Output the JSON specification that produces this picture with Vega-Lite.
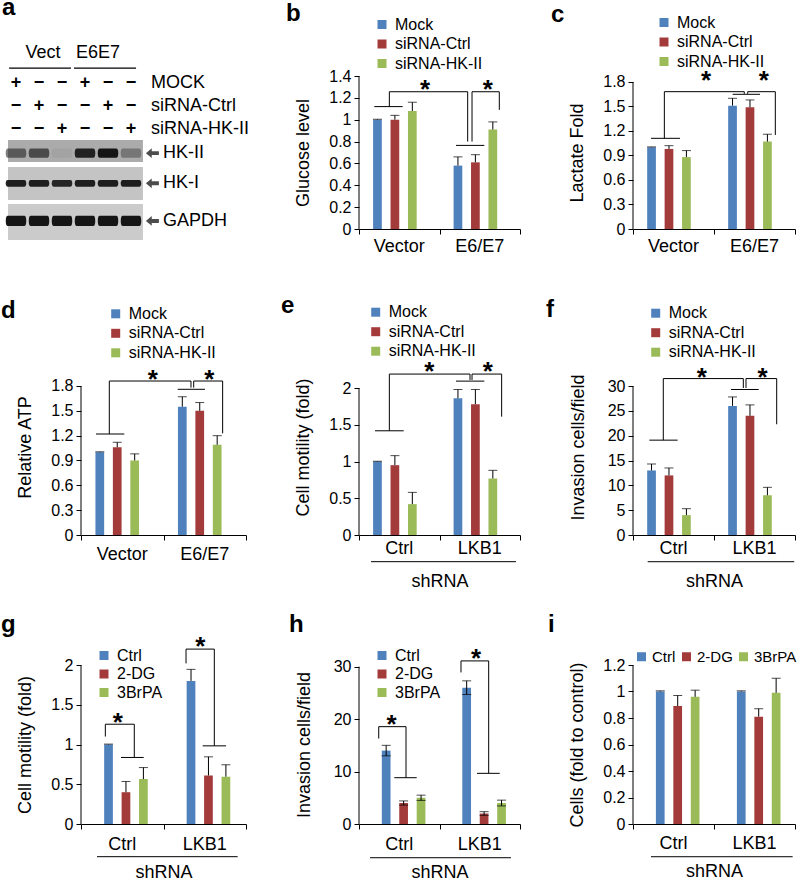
{
"$schema": "https://vega.github.io/schema/vega-lite/v6.json",
"padding": {"top": -5, "left": 0, "right": 0, "bottom": 0},
"background": "white",
"columns": 3,
"spacing": {"row": 130, "column": 113},
"bounds": "flush",
"align": "each",
"resolve": {"scale": {"color": "independent", "shape": "independent"}, "legend": {"color": "independent"}},
"config": {
  "font": "Liberation Sans",
  "view": {"stroke": null},
  "axis": {"grid": false, "labelColor": "#000", "titleColor": "#000", "tickColor": "#000", "domainColor": "#000", "labelFontSize": 16, "titleFontSize": 18, "titleFontWeight": "normal", "tickSize": 5, "labelPadding": 3, "labelOverlap": false},
  "legend": {"symbolType": "square", "symbolSize": 81, "symbolStrokeWidth": 0, "labelFontSize": 16, "rowPadding": 3.5, "labelOffset": 5, "padding": 0, "labelColor": "#000"},
  "text": {"color": "#000"}
},
"concat": [
{
  "width": 165, "height": 153,
  "data": {"values": [
    {"k":"bg","p":"HK-II","x0":0.652,"x1":6.52,"y0":3.48,"y1":4.43},
    {"k":"bg","p":"HK-I","x0":0.652,"x1":6.52,"y0":4.65,"y1":6.09},
    {"k":"bg","p":"GAPDH","x0":0.652,"x1":6.52,"y0":6.26,"y1":7.83},
    {"k":"band","p":"HK-II","x0":1,"y0":4.05,"o":0.55},
    {"k":"band","p":"HK-II","x0":2,"y0":4.05,"o":0.65},
    {"k":"band","p":"HK-II","x0":3,"y0":4.05,"o":0.05},
    {"k":"band","p":"HK-II","x0":4,"y0":4.05,"o":0.92},
    {"k":"band","p":"HK-II","x0":5,"y0":4.05,"o":1},
    {"k":"band","p":"HK-II","x0":6,"y0":4.05,"o":0.35},
    {"k":"band","p":"HK-I","x0":1,"y0":5.36,"o":0.95},
    {"k":"band","p":"HK-I","x0":2,"y0":5.36,"o":0.95},
    {"k":"band","p":"HK-I","x0":3,"y0":5.36,"o":0.9},
    {"k":"band","p":"HK-I","x0":4,"y0":5.36,"o":0.95},
    {"k":"band","p":"HK-I","x0":5,"y0":5.36,"o":0.95},
    {"k":"band","p":"HK-I","x0":6,"y0":5.36,"o":0.95},
    {"k":"band","p":"GAPDH","x0":1,"y0":7.0,"o":1},
    {"k":"band","p":"GAPDH","x0":2,"y0":7.0,"o":1},
    {"k":"band","p":"GAPDH","x0":3,"y0":7.0,"o":1},
    {"k":"band","p":"GAPDH","x0":4,"y0":7.0,"o":1},
    {"k":"band","p":"GAPDH","x0":5,"y0":7.0,"o":1},
    {"k":"band","p":"GAPDH","x0":6,"y0":7.0,"o":1},
    {"k":"arrow","x0":6.93,"y0":4.05},
    {"k":"arrow","x0":6.93,"y0":5.36},
    {"k":"arrow","x0":6.93,"y0":7.0},
    {"k":"lab","x0":7.39,"y0":4.05,"s":"HK-II"},
    {"k":"lab","x0":7.39,"y0":5.36,"s":"HK-I"},
    {"k":"lab","x0":7.39,"y0":7.0,"s":"GAPDH"},
    {"k":"lab","x0":6.87,"y0":1,"s":"MOCK"},
    {"k":"lab","x0":6.87,"y0":2,"s":"siRNA-Ctrl"},
    {"k":"lab","x0":6.87,"y0":3,"s":"siRNA-HK-II"},
    {"k":"sign","x0":1,"y0":1,"s":"+"},{"k":"sign","x0":2,"y0":1,"s":"−"},{"k":"sign","x0":3,"y0":1,"s":"−"},
    {"k":"sign","x0":4,"y0":1,"s":"+"},{"k":"sign","x0":5,"y0":1,"s":"−"},{"k":"sign","x0":6,"y0":1,"s":"−"},
    {"k":"sign","x0":1,"y0":2,"s":"−"},{"k":"sign","x0":2,"y0":2,"s":"+"},{"k":"sign","x0":3,"y0":2,"s":"−"},
    {"k":"sign","x0":4,"y0":2,"s":"−"},{"k":"sign","x0":5,"y0":2,"s":"+"},{"k":"sign","x0":6,"y0":2,"s":"−"},
    {"k":"sign","x0":1,"y0":3,"s":"−"},{"k":"sign","x0":2,"y0":3,"s":"−"},{"k":"sign","x0":3,"y0":3,"s":"+"},
    {"k":"sign","x0":4,"y0":3,"s":"−"},{"k":"sign","x0":5,"y0":3,"s":"−"},{"k":"sign","x0":6,"y0":3,"s":"+"},
    {"k":"hdr","x0":2.17,"y0":-0.3,"s":"Vect"},
    {"k":"hdr","x0":4.57,"y0":-0.3,"s":"E6E7"},
    {"k":"seg","x0":0.70,"x1":3.39,"y0":0.35,"y1":0.35},
    {"k":"seg","x0":3.52,"x1":6.22,"y0":0.35,"y1":0.35},
    {"k":"letter","x0":0.39,"y0":-1.957,"s":"a"}
  ]},
  "encoding": {
    "x": {"field":"x0","type":"quantitative","scale":{"domain":[3.826,11.0],"nice":false,"zero":false},"axis":null},
    "y": {"field":"y0","type":"quantitative","scale":{"domain":[0.696,7.348],"reverse":true,"nice":false,"zero":false},"axis":null}
  },
  "layer": [
    {"transform":[{"filter":"datum.k == 'bg'"}],"mark":{"type":"rect"},"encoding":{"x2":{"field":"x1"},"y2":{"field":"y1"},"color":{"field":"p","type":"nominal","scale":{"domain":["HK-II","HK-I","GAPDH"],"range":["#ababab","#c4c4c4","#cbcbcb"]},"legend":null}}},
    {"transform":[{"filter":"datum.k == 'band'"}],"mark":{"type":"point","filled":true,"color":"#151515","size":420,"strokeWidth":0},"encoding":{"shape":{"field":"p","type":"nominal","scale":{"domain":["HK-II","HK-I","GAPDH"],"range":["M-0.8,-0.45L0.8,-0.45Q1,-0.45 1,0Q1,0.45 0.8,0.45L-0.8,0.45Q-1,0.45 -1,0Q-1,-0.45 -0.8,-0.45Z","M-0.8,-0.33L0.8,-0.33Q1,-0.33 1,0Q1,0.33 0.8,0.33L-0.8,0.33Q-1,0.33 -1,0Q-1,-0.33 -0.8,-0.33Z","M-0.8,-0.5L0.8,-0.5Q1,-0.5 1,0Q1,0.5 0.8,0.5L-0.8,0.5Q-1,0.5 -1,0Q-1,-0.5 -0.8,-0.5Z"]},"legend":null},"opacity":{"field":"o","type":"quantitative","scale":null,"legend":null}}},
    {"transform":[{"filter":"datum.k == 'arrow'"}],"mark":{"type":"point","filled":true,"color":"#000","size":169,"strokeWidth":0,"shape":"M-1,0L-0.1,-0.75L-0.1,-0.3L1,-0.3L1,0.3L-0.1,0.3L-0.1,0.75Z"}},
    {"transform":[{"filter":"datum.k == 'lab'"}],"mark":{"type":"text","align":"left","baseline":"middle","fontSize":18},"encoding":{"text":{"field":"s"}}},
    {"transform":[{"filter":"datum.k == 'sign'"}],"mark":{"type":"text","align":"center","baseline":"middle","fontSize":18,"fontWeight":"bold"},"encoding":{"text":{"field":"s"}}},
    {"transform":[{"filter":"datum.k == 'hdr'"}],"mark":{"type":"text","align":"center","baseline":"middle","fontSize":18},"encoding":{"text":{"field":"s"}}},
    {"transform":[{"filter":"datum.k == 'seg'"}],"mark":{"type":"rule","color":"#000","strokeWidth":1.3},"encoding":{"x2":{"field":"x1"},"y2":{"field":"y1"}}},
    {"transform":[{"filter":"datum.k == 'letter'"}],"mark":{"type":"text","align":"left","baseline":"alphabetic","fontSize":24,"fontWeight":"bold"},"encoding":{"text":{"field":"s"}}}
  ]
},
{
  "width": 161, "height": 153,
  "resolve": {"scale": {"x": "independent"}, "axis": {"x": "independent"}},
  "layer": [
    {
      "data": {"values": [
        {"g":"Vector","t":"Mock","v":1.0,"hi":1.005},
        {"g":"Vector","t":"siRNA-Ctrl","v":1.0,"hi":1.04},
        {"g":"Vector","t":"siRNA-HK-II","v":1.08,"hi":1.16},
        {"g":"E6/E7","t":"Mock","v":0.58,"hi":0.66},
        {"g":"E6/E7","t":"siRNA-Ctrl","v":0.61,"hi":0.68},
        {"g":"E6/E7","t":"siRNA-HK-II","v":0.91,"hi":0.98}
      ]},
      "encoding": {
        "x": {"field":"g","type":"nominal","sort":["Vector","E6/E7"],"scale":{"paddingInner":0.35,"paddingOuter":0.175},"axis":{"orient":"bottom","title":null,"ticks":false,"domain":false,"labelAngle":0,"labelFontSize":18,"labelPadding":8}},
        "xOffset": {"field":"t","type":"nominal","sort":["Mock","siRNA-Ctrl","siRNA-HK-II"],"scale":{"paddingInner":0,"paddingOuter":0}},
        "y": {"field":"v","type":"quantitative","scale":{"domain":[0,1.4],"nice":false},"axis":{"values":[0,0.2,0.4,0.6,0.8,1,1.2,1.4],"tickCount":20,"format":".3~g","labelOverlap":false,"domain":false,"title":"Glucose level","titlePadding":16}}
      },
      "layer": [
        {"mark":{"type":"bar"},"encoding":{"color":{"field":"t","type":"nominal","scale":{"domain":["Mock","siRNA-Ctrl","siRNA-HK-II"],"range":["#4F81BD","#A33B3B","#9BBB59"]},"legend":{"orient":"none","legendX":15,"legendY":-59.5,"title":null}}}},
        {"mark":{"type":"rule","color":"#000","strokeWidth":1},"encoding":{"y2":{"field":"hi"}}},
        {"mark":{"type":"tick","color":"#000","thickness":1,"size":9},"encoding":{"y":{"field":"hi","type":"quantitative"}}}
      ]
    },
    {
      "data": {"values": [
        {"k":"seg","x0":0,"x1":0,"y0":0,"y1":1.4},
        {"k":"seg","x0":0.19,"x1":0.542,"y0":1.12,"y1":1.12},
        {"k":"seg","x0":0.377,"x1":0.377,"y0":1.12,"y1":1.256},
        {"k":"seg","x0":0.377,"x1":1.35,"y0":1.256,"y1":1.256},
        {"k":"seg","x0":1.35,"x1":1.35,"y0":1.256,"y1":0.8},
        {"k":"seg","x0":1.404,"x1":1.404,"y0":1.256,"y1":0.8},
        {"k":"seg","x0":1.205,"x1":1.557,"y0":0.765,"y1":0.765},
        {"k":"seg","x0":1.404,"x1":1.743,"y0":1.256,"y1":1.256},
        {"k":"seg","x0":1.743,"x1":1.743,"y0":1.256,"y1":1.09},
        {"k":"star","x0":0.82,"y0":1.33,"s":"*"},
        {"k":"star","x0":1.599,"y0":1.33,"s":"*"},
        {"k":"letter","x0":-0.907,"y0":1.903,"s":"b"}
      ]},
      "encoding": {
        "x": {"field":"x0","type":"quantitative","scale":{"domain":[0,2],"nice":false,"zero":false},"axis":{"orient":"bottom","values":[0,1,2],"labels":false,"title":null,"domain":true,"ticks":true}},
        "y": {"field":"y0","type":"quantitative","scale":{"domain":[0,1.4],"nice":false}}
      },
      "layer": [
        {"transform":[{"filter":"datum.k == 'seg'"}],"mark":{"type":"rule","color":"#000","strokeWidth":1},"encoding":{"x2":{"field":"x1"},"y2":{"field":"y1"}}},
        {"transform":[{"filter":"datum.k == 'star'"}],"mark":{"type":"text","fontSize":26,"fontWeight":"bold","baseline":"alphabetic","dy":14},"encoding":{"text":{"field":"s"}}},
        {"transform":[{"filter":"datum.k == 'letter'"}],"mark":{"type":"text","fontSize":24,"fontWeight":"bold","align":"left","baseline":"alphabetic"},"encoding":{"text":{"field":"s"}}}
      ]
    }
  ]
},
{
  "width": 162, "height": 153,
  "resolve": {"scale": {"x": "independent"}, "axis": {"x": "independent"}},
  "layer": [
    {
      "data": {"values": [
        {"g":"Vector","t":"Mock","v":1.0,"hi":1.005},
        {"g":"Vector","t":"siRNA-Ctrl","v":0.98,"hi":1.02},
        {"g":"Vector","t":"siRNA-HK-II","v":0.88,"hi":0.96},
        {"g":"E6/E7","t":"Mock","v":1.51,"hi":1.6},
        {"g":"E6/E7","t":"siRNA-Ctrl","v":1.49,"hi":1.58},
        {"g":"E6/E7","t":"siRNA-HK-II","v":1.07,"hi":1.16}
      ]},
      "encoding": {
        "x": {"field":"g","type":"nominal","sort":["Vector","E6/E7"],"scale":{"paddingInner":0.35,"paddingOuter":0.175},"axis":{"orient":"bottom","title":null,"ticks":false,"domain":false,"labelAngle":0,"labelFontSize":18,"labelPadding":8}},
        "xOffset": {"field":"t","type":"nominal","sort":["Mock","siRNA-Ctrl","siRNA-HK-II"],"scale":{"paddingInner":0,"paddingOuter":0}},
        "y": {"field":"v","type":"quantitative","scale":{"domain":[0,1.873],"nice":false},"axis":{"values":[0,0.3,0.6,0.9,1.2,1.5,1.8],"tickCount":20,"format":".3~g","labelOverlap":false,"domain":false,"title":"Lactate Fold","titlePadding":16}}
      },
      "layer": [
        {"mark":{"type":"bar"},"encoding":{"color":{"field":"t","type":"nominal","scale":{"domain":["Mock","siRNA-Ctrl","siRNA-HK-II"],"range":["#4F81BD","#A33B3B","#9BBB59"]},"legend":{"orient":"none","legendX":23,"legendY":-61.5,"title":null}}}},
        {"mark":{"type":"rule","color":"#000","strokeWidth":1},"encoding":{"y2":{"field":"hi"}}},
        {"mark":{"type":"tick","color":"#000","thickness":1,"size":9},"encoding":{"y":{"field":"hi","type":"quantitative"}}}
      ]
    },
    {
      "data": {"values": [
        {"k":"seg","x0":0,"x1":0,"y0":0,"y1":1.8},
        {"k":"seg","x0":0.222,"x1":0.58,"y0":1.11,"y1":1.11},
        {"k":"seg","x0":0.387,"x1":0.387,"y0":1.11,"y1":1.681},
        {"k":"seg","x0":0.387,"x1":1.374,"y0":1.681,"y1":1.681},
        {"k":"seg","x0":1.374,"x1":1.374,"y0":1.681,"y1":1.655},
        {"k":"seg","x0":1.416,"x1":1.416,"y0":1.681,"y1":1.655},
        {"k":"seg","x0":1.23,"x1":1.568,"y0":1.649,"y1":1.649},
        {"k":"seg","x0":1.416,"x1":1.757,"y0":1.681,"y1":1.681},
        {"k":"seg","x0":1.757,"x1":1.757,"y0":1.681,"y1":1.151},
        {"k":"star","x0":0.901,"y0":1.886,"s":"*"},
        {"k":"star","x0":1.614,"y0":1.886,"s":"*"},
        {"k":"letter","x0":-1.012,"y0":2.535,"s":"c"}
      ]},
      "encoding": {
        "x": {"field":"x0","type":"quantitative","scale":{"domain":[0,2],"nice":false,"zero":false},"axis":{"orient":"bottom","values":[0,1,2],"labels":false,"title":null,"domain":true,"ticks":true}},
        "y": {"field":"y0","type":"quantitative","scale":{"domain":[0,1.873],"nice":false}}
      },
      "layer": [
        {"transform":[{"filter":"datum.k == 'seg'"}],"mark":{"type":"rule","color":"#000","strokeWidth":1},"encoding":{"x2":{"field":"x1"},"y2":{"field":"y1"}}},
        {"transform":[{"filter":"datum.k == 'star'"}],"mark":{"type":"text","fontSize":26,"fontWeight":"bold","baseline":"alphabetic","dy":14},"encoding":{"text":{"field":"s"}}},
        {"transform":[{"filter":"datum.k == 'letter'"}],"mark":{"type":"text","fontSize":24,"fontWeight":"bold","align":"left","baseline":"alphabetic"},"encoding":{"text":{"field":"s"}}}
      ]
    }
  ]
},
{
  "width": 165, "height": 176,
  "resolve": {"scale": {"x": "independent"}, "axis": {"x": "independent"}},
  "layer": [
    {
      "data": {"values": [
        {"g":"Vector","t":"Mock","v":1.0,"hi":1.005},
        {"g":"Vector","t":"siRNA-Ctrl","v":1.06,"hi":1.12},
        {"g":"Vector","t":"siRNA-HK-II","v":0.9,"hi":0.98},
        {"g":"E6/E7","t":"Mock","v":1.55,"hi":1.67},
        {"g":"E6/E7","t":"siRNA-Ctrl","v":1.5,"hi":1.6},
        {"g":"E6/E7","t":"siRNA-HK-II","v":1.09,"hi":1.2}
      ]},
      "encoding": {
        "x": {"field":"g","type":"nominal","sort":["Vector","E6/E7"],"scale":{"paddingInner":0.35,"paddingOuter":0.175},"axis":{"orient":"bottom","title":null,"ticks":false,"domain":false,"labelAngle":0,"labelFontSize":18,"labelPadding":10}},
        "xOffset": {"field":"t","type":"nominal","sort":["Mock","siRNA-Ctrl","siRNA-HK-II"],"scale":{"paddingInner":0,"paddingOuter":0}},
        "y": {"field":"v","type":"quantitative","scale":{"domain":[0,2.126],"nice":false},"axis":{"values":[0,0.3,0.6,0.9,1.2,1.5,1.8],"tickCount":20,"format":".3~g","labelOverlap":false,"domain":false,"title":"Relative ATP","titlePadding":16}}
      },
      "layer": [
        {"mark":{"type":"bar"},"encoding":{"color":{"field":"t","type":"nominal","scale":{"domain":["Mock","siRNA-Ctrl","siRNA-HK-II"],"range":["#4F81BD","#A33B3B","#9BBB59"]},"legend":{"orient":"none","legendX":26.7,"legendY":-53.2,"title":null}}}},
        {"mark":{"type":"rule","color":"#000","strokeWidth":1},"encoding":{"y2":{"field":"hi"}}},
        {"mark":{"type":"tick","color":"#000","thickness":1,"size":9},"encoding":{"y":{"field":"hi","type":"quantitative"}}}
      ]
    },
    {
      "data": {"values": [
        {"k":"seg","x0":0,"x1":0,"y0":0,"y1":1.8},
        {"k":"seg","x0":0.182,"x1":0.525,"y0":1.22,"y1":1.22},
        {"k":"seg","x0":0.343,"x1":0.343,"y0":1.22,"y1":1.86},
        {"k":"seg","x0":0.343,"x1":1.333,"y0":1.86,"y1":1.86},
        {"k":"seg","x0":1.333,"x1":1.333,"y0":1.86,"y1":1.78},
        {"k":"seg","x0":1.366,"x1":1.366,"y0":1.86,"y1":1.78},
        {"k":"seg","x0":1.172,"x1":1.503,"y0":1.76,"y1":1.76},
        {"k":"seg","x0":1.366,"x1":1.717,"y0":1.86,"y1":1.86},
        {"k":"seg","x0":1.717,"x1":1.717,"y0":1.86,"y1":1.228},
        {"k":"star","x0":0.869,"y0":1.95,"s":"*"},
        {"k":"star","x0":1.556,"y0":1.95,"s":"*"},
        {"k":"letter","x0":-0.970,"y0":2.621,"s":"d"}
      ]},
      "encoding": {
        "x": {"field":"x0","type":"quantitative","scale":{"domain":[0,2],"nice":false,"zero":false},"axis":{"orient":"bottom","values":[0,1,2],"labels":false,"title":null,"domain":true,"ticks":true}},
        "y": {"field":"y0","type":"quantitative","scale":{"domain":[0,2.126],"nice":false}}
      },
      "layer": [
        {"transform":[{"filter":"datum.k == 'seg'"}],"mark":{"type":"rule","color":"#000","strokeWidth":1},"encoding":{"x2":{"field":"x1"},"y2":{"field":"y1"}}},
        {"transform":[{"filter":"datum.k == 'star'"}],"mark":{"type":"text","fontSize":26,"fontWeight":"bold","baseline":"alphabetic","dy":14},"encoding":{"text":{"field":"s"}}},
        {"transform":[{"filter":"datum.k == 'letter'"}],"mark":{"type":"text","fontSize":24,"fontWeight":"bold","align":"left","baseline":"alphabetic"},"encoding":{"text":{"field":"s"}}}
      ]
    }
  ]
},
{
  "width": 161, "height": 176,
  "resolve": {"scale": {"x": "independent"}, "axis": {"x": "independent"}},
  "layer": [
    {
      "data": {"values": [
        {"g":"Ctrl","t":"Mock","v":1.0,"hi":1.005},
        {"g":"Ctrl","t":"siRNA-Ctrl","v":0.95,"hi":1.08},
        {"g":"Ctrl","t":"siRNA-HK-II","v":0.42,"hi":0.58},
        {"g":"LKB1","t":"Mock","v":1.86,"hi":1.98},
        {"g":"LKB1","t":"siRNA-Ctrl","v":1.78,"hi":1.98},
        {"g":"LKB1","t":"siRNA-HK-II","v":0.77,"hi":0.88}
      ]},
      "encoding": {
        "x": {"field":"g","type":"nominal","sort":["Ctrl","LKB1"],"scale":{"paddingInner":0.35,"paddingOuter":0.175},"axis":{"orient":"bottom","title":"shRNA","titlePadding":15,"ticks":false,"domain":false,"labelAngle":0,"labelFontSize":18,"labelPadding":4}},
        "xOffset": {"field":"t","type":"nominal","sort":["Mock","siRNA-Ctrl","siRNA-HK-II"],"scale":{"paddingInner":0,"paddingOuter":0}},
        "y": {"field":"v","type":"quantitative","scale":{"domain":[0,2.395],"nice":false},"axis":{"values":[0,0.5,1,1.5,2],"tickCount":20,"format":".3~g","labelOverlap":false,"domain":false,"title":"Cell motility (fold)","titlePadding":16}}
      },
      "layer": [
        {"mark":{"type":"bar"},"encoding":{"color":{"field":"t","type":"nominal","scale":{"domain":["Mock","siRNA-Ctrl","siRNA-HK-II"],"range":["#4F81BD","#A33B3B","#9BBB59"]},"legend":{"orient":"none","legendX":8.7,"legendY":-54.8,"title":null}}}},
        {"mark":{"type":"rule","color":"#000","strokeWidth":1},"encoding":{"y2":{"field":"hi"}}},
        {"mark":{"type":"tick","color":"#000","thickness":1,"size":9},"encoding":{"y":{"field":"hi","type":"quantitative"}}}
      ]
    },
    {
      "data": {"values": [
        {"k":"seg","x0":0,"x1":0,"y0":0,"y1":2},
        {"k":"seg","x0":0.199,"x1":0.555,"y0":1.418,"y1":1.418},
        {"k":"seg","x0":0.377,"x1":0.377,"y0":1.418,"y1":2.19},
        {"k":"seg","x0":0.377,"x1":1.379,"y0":2.19,"y1":2.19},
        {"k":"seg","x0":1.379,"x1":1.379,"y0":2.19,"y1":2.11},
        {"k":"seg","x0":1.404,"x1":1.404,"y0":2.19,"y1":2.11},
        {"k":"seg","x0":1.205,"x1":1.557,"y0":2.094,"y1":2.094},
        {"k":"seg","x0":1.404,"x1":1.772,"y0":2.19,"y1":2.19},
        {"k":"seg","x0":1.772,"x1":1.772,"y0":2.19,"y1":1.61},
        {"k":"seg","x0":0.149,"x1":1.95,"y0":-0.363,"y1":-0.363},
        {"k":"star","x0":0.874,"y0":2.304,"s":"*"},
        {"k":"star","x0":1.599,"y0":2.304,"s":"*"},
        {"k":"letter","x0":-0.969,"y0":3.021,"s":"e"}
      ]},
      "encoding": {
        "x": {"field":"x0","type":"quantitative","scale":{"domain":[0,2],"nice":false,"zero":false},"axis":{"orient":"bottom","values":[0,1,2],"labels":false,"title":null,"domain":true,"ticks":true}},
        "y": {"field":"y0","type":"quantitative","scale":{"domain":[0,2.395],"nice":false}}
      },
      "layer": [
        {"transform":[{"filter":"datum.k == 'seg'"}],"mark":{"type":"rule","color":"#000","strokeWidth":1},"encoding":{"x2":{"field":"x1"},"y2":{"field":"y1"}}},
        {"transform":[{"filter":"datum.k == 'star'"}],"mark":{"type":"text","fontSize":26,"fontWeight":"bold","baseline":"alphabetic","dy":14},"encoding":{"text":{"field":"s"}}},
        {"transform":[{"filter":"datum.k == 'letter'"}],"mark":{"type":"text","fontSize":24,"fontWeight":"bold","align":"left","baseline":"alphabetic"},"encoding":{"text":{"field":"s"}}}
      ]
    }
  ]
},
{
  "width": 162, "height": 176,
  "resolve": {"scale": {"x": "independent"}, "axis": {"x": "independent"}},
  "layer": [
    {
      "data": {"values": [
        {"g":"Ctrl","t":"Mock","v":13,"hi":14.3},
        {"g":"Ctrl","t":"siRNA-Ctrl","v":12,"hi":13.5},
        {"g":"Ctrl","t":"siRNA-HK-II","v":4,"hi":5.3},
        {"g":"LKB1","t":"Mock","v":26,"hi":27.8},
        {"g":"LKB1","t":"siRNA-Ctrl","v":24,"hi":26.2},
        {"g":"LKB1","t":"siRNA-HK-II","v":8,"hi":9.6}
      ]},
      "encoding": {
        "x": {"field":"g","type":"nominal","sort":["Ctrl","LKB1"],"scale":{"paddingInner":0.35,"paddingOuter":0.175},"axis":{"orient":"bottom","title":"shRNA","titlePadding":15,"ticks":false,"domain":false,"labelAngle":0,"labelFontSize":18,"labelPadding":4}},
        "xOffset": {"field":"t","type":"nominal","sort":["Mock","siRNA-Ctrl","siRNA-HK-II"],"scale":{"paddingInner":0,"paddingOuter":0}},
        "y": {"field":"v","type":"quantitative","scale":{"domain":[0,35.44],"nice":false},"axis":{"values":[0,5,10,15,20,25,30],"tickCount":20,"format":".3~g","labelOverlap":false,"domain":false,"title":"Invasion cells/field","titlePadding":20}}
      },
      "layer": [
        {"mark":{"type":"bar"},"encoding":{"color":{"field":"t","type":"nominal","scale":{"domain":["Mock","siRNA-Ctrl","siRNA-HK-II"],"range":["#4F81BD","#A33B3B","#9BBB59"]},"legend":{"orient":"none","legendX":14.7,"legendY":-53.8,"title":null}}}},
        {"mark":{"type":"rule","color":"#000","strokeWidth":1},"encoding":{"y2":{"field":"hi"}}},
        {"mark":{"type":"tick","color":"#000","thickness":1,"size":9},"encoding":{"y":{"field":"hi","type":"quantitative"}}}
      ]
    },
    {
      "data": {"values": [
        {"k":"seg","x0":0,"x1":0,"y0":0,"y1":30},
        {"k":"seg","x0":0.202,"x1":0.551,"y0":19.1,"y1":19.1},
        {"k":"seg","x0":0.374,"x1":0.374,"y0":19.1,"y1":31.5},
        {"k":"seg","x0":0.374,"x1":1.362,"y0":31.5,"y1":31.5},
        {"k":"seg","x0":1.362,"x1":1.362,"y0":31.5,"y1":29.6},
        {"k":"seg","x0":1.395,"x1":1.395,"y0":31.5,"y1":29.6},
        {"k":"seg","x0":1.21,"x1":1.552,"y0":29.3,"y1":29.3},
        {"k":"seg","x0":1.395,"x1":1.774,"y0":31.5,"y1":31.5},
        {"k":"seg","x0":1.774,"x1":1.774,"y0":31.5,"y1":22.3},
        {"k":"seg","x0":0.181,"x1":1.99,"y0":-5.38,"y1":-5.38},
        {"k":"star","x0":0.848,"y0":32.9,"s":"*"},
        {"k":"star","x0":1.601,"y0":32.9,"s":"*"},
        {"k":"letter","x0":-1.074,"y0":43.9,"s":"f"}
      ]},
      "encoding": {
        "x": {"field":"x0","type":"quantitative","scale":{"domain":[0,2],"nice":false,"zero":false},"axis":{"orient":"bottom","values":[0,1,2],"labels":false,"title":null,"domain":true,"ticks":true}},
        "y": {"field":"y0","type":"quantitative","scale":{"domain":[0,35.44],"nice":false}}
      },
      "layer": [
        {"transform":[{"filter":"datum.k == 'seg'"}],"mark":{"type":"rule","color":"#000","strokeWidth":1},"encoding":{"x2":{"field":"x1"},"y2":{"field":"y1"}}},
        {"transform":[{"filter":"datum.k == 'star'"}],"mark":{"type":"text","fontSize":26,"fontWeight":"bold","baseline":"alphabetic","dy":14},"encoding":{"text":{"field":"s"}}},
        {"transform":[{"filter":"datum.k == 'letter'"}],"mark":{"type":"text","fontSize":24,"fontWeight":"bold","align":"left","baseline":"alphabetic"},"encoding":{"text":{"field":"s"}}}
      ]
    }
  ]
},
{
  "width": 165, "height": 159,
  "resolve": {"scale": {"x": "independent"}, "axis": {"x": "independent"}},
  "layer": [
    {
      "data": {"values": [
        {"g":"Ctrl","t":"Ctrl","v":1.0,"hi":1.005},
        {"g":"Ctrl","t":"2-DG","v":0.4,"hi":0.535},
        {"g":"Ctrl","t":"3BrPA","v":0.565,"hi":0.71},
        {"g":"LKB1","t":"Ctrl","v":1.8,"hi":1.945},
        {"g":"LKB1","t":"2-DG","v":0.61,"hi":0.845},
        {"g":"LKB1","t":"3BrPA","v":0.595,"hi":0.745}
      ]},
      "encoding": {
        "x": {"field":"g","type":"nominal","sort":["Ctrl","LKB1"],"scale":{"paddingInner":0.35,"paddingOuter":0.175},"axis":{"orient":"bottom","title":"shRNA","titlePadding":10,"ticks":false,"domain":false,"labelAngle":0,"labelFontSize":18,"labelPadding":11}},
        "xOffset": {"field":"t","type":"nominal","sort":["Ctrl","2-DG","3BrPA"],"scale":{"paddingInner":0,"paddingOuter":0}},
        "y": {"field":"v","type":"quantitative","scale":{"domain":[0,2],"nice":false},"axis":{"values":[0,0.5,1,1.5,2],"tickCount":20,"format":".3~g","labelOverlap":false,"domain":false,"title":"Cell motility (fold)","titlePadding":16}}
      },
      "layer": [
        {"mark":{"type":"bar"},"encoding":{"color":{"field":"t","type":"nominal","scale":{"domain":["Ctrl","2-DG","3BrPA"],"range":["#4F81BD","#A33B3B","#9BBB59"]},"legend":{"orient":"none","legendX":15,"legendY":-17.5,"rowPadding":2.5,"title":null}}}},
        {"mark":{"type":"rule","color":"#000","strokeWidth":1},"encoding":{"y2":{"field":"hi"}}},
        {"mark":{"type":"tick","color":"#000","thickness":1,"size":9},"encoding":{"y":{"field":"hi","type":"quantitative"}}}
      ]
    },
    {
      "data": {"values": [
        {"k":"seg","x0":0,"x1":0,"y0":0,"y1":2},
        {"k":"seg","x0":0.295,"x1":0.295,"y0":1.1,"y1":1.255},
        {"k":"seg","x0":0.295,"x1":0.646,"y0":1.255,"y1":1.255},
        {"k":"seg","x0":0.646,"x1":0.646,"y0":1.255,"y1":0.837},
        {"k":"seg","x0":0.485,"x1":0.76,"y0":0.837,"y1":0.837},
        {"k":"seg","x0":1.273,"x1":1.273,"y0":2.02,"y1":2.2},
        {"k":"seg","x0":1.273,"x1":1.616,"y0":2.2,"y1":2.2},
        {"k":"seg","x0":1.616,"x1":1.616,"y0":2.2,"y1":0.983},
        {"k":"seg","x0":1.475,"x1":1.758,"y0":0.983,"y1":0.983},
        {"k":"seg","x0":0.194,"x1":1.899,"y0":-0.411,"y1":-0.411},
        {"k":"star","x0":0.445,"y0":1.35,"s":"*"},
        {"k":"star","x0":1.446,"y0":2.3,"s":"*"},
        {"k":"letter","x0":-0.970,"y0":2.415,"s":"g"}
      ]},
      "encoding": {
        "x": {"field":"x0","type":"quantitative","scale":{"domain":[0,2],"nice":false,"zero":false},"axis":{"orient":"bottom","values":[0,1,2],"labels":false,"title":null,"domain":true,"ticks":true}},
        "y": {"field":"y0","type":"quantitative","scale":{"domain":[0,2],"nice":false}}
      },
      "layer": [
        {"transform":[{"filter":"datum.k == 'seg'"}],"mark":{"type":"rule","color":"#000","strokeWidth":1},"encoding":{"x2":{"field":"x1"},"y2":{"field":"y1"}}},
        {"transform":[{"filter":"datum.k == 'star'"}],"mark":{"type":"text","fontSize":26,"fontWeight":"bold","baseline":"alphabetic","dy":14},"encoding":{"text":{"field":"s"}}},
        {"transform":[{"filter":"datum.k == 'letter'"}],"mark":{"type":"text","fontSize":24,"fontWeight":"bold","align":"left","baseline":"alphabetic"},"encoding":{"text":{"field":"s"}}}
      ]
    }
  ]
},
{
  "width": 161, "height": 159,
  "resolve": {"scale": {"x": "independent"}, "axis": {"x": "independent"}},
  "layer": [
    {
      "data": {"values": [
        {"g":"Ctrl","t":"Ctrl","v":14,"lo":13,"hi":15},
        {"g":"Ctrl","t":"2-DG","v":4,"lo":3.6,"hi":4.4},
        {"g":"Ctrl","t":"3BrPA","v":5,"lo":4.5,"hi":5.5},
        {"g":"LKB1","t":"Ctrl","v":26,"lo":24.7,"hi":27.3},
        {"g":"LKB1","t":"2-DG","v":2,"lo":1.65,"hi":2.35},
        {"g":"LKB1","t":"3BrPA","v":4,"lo":3.45,"hi":4.55}
      ]},
      "encoding": {
        "x": {"field":"g","type":"nominal","sort":["Ctrl","LKB1"],"scale":{"paddingInner":0.35,"paddingOuter":0.175},"axis":{"orient":"bottom","title":"shRNA","titlePadding":10,"ticks":false,"domain":false,"labelAngle":0,"labelFontSize":18,"labelPadding":11}},
        "xOffset": {"field":"t","type":"nominal","sort":["Ctrl","2-DG","3BrPA"],"scale":{"paddingInner":0,"paddingOuter":0}},
        "y": {"field":"v","type":"quantitative","scale":{"domain":[0,30.32],"nice":false},"axis":{"values":[0,10,20,30],"tickCount":20,"format":".3~g","labelOverlap":false,"domain":false,"title":"Invasion cells/field","titlePadding":20}}
      },
      "layer": [
        {"mark":{"type":"bar"},"encoding":{"color":{"field":"t","type":"nominal","scale":{"domain":["Ctrl","2-DG","3BrPA"],"range":["#4F81BD","#A33B3B","#9BBB59"]},"legend":{"orient":"none","legendX":15,"legendY":-17.5,"rowPadding":2.5,"title":null}}}},
        {"mark":{"type":"rule","color":"#000","strokeWidth":1},"encoding":{"y":{"field":"lo","type":"quantitative"},"y2":{"field":"hi"}}},
        {"mark":{"type":"tick","color":"#000","thickness":1,"size":9},"encoding":{"y":{"field":"hi","type":"quantitative"}}},
        {"mark":{"type":"tick","color":"#000","thickness":1,"size":9},"encoding":{"y":{"field":"lo","type":"quantitative"}}}
      ]
    },
    {
      "data": {"values": [
        {"k":"seg","x0":0,"x1":0,"y0":0,"y1":30},
        {"k":"seg","x0":0.245,"x1":0.245,"y0":16.3,"y1":18.56},
        {"k":"seg","x0":0.245,"x1":0.584,"y0":18.56,"y1":18.56},
        {"k":"seg","x0":0.584,"x1":0.584,"y0":18.56,"y1":8.83},
        {"k":"seg","x0":0.439,"x1":0.717,"y0":8.83,"y1":8.83},
        {"k":"seg","x0":1.267,"x1":1.267,"y0":28.9,"y1":31.1},
        {"k":"seg","x0":1.267,"x1":1.611,"y0":31.1,"y1":31.1},
        {"k":"seg","x0":1.611,"x1":1.611,"y0":31.1,"y1":9.66},
        {"k":"seg","x0":1.466,"x1":1.748,"y0":9.66,"y1":9.66},
        {"k":"seg","x0":0.137,"x1":1.888,"y0":-6.43,"y1":-6.43},
        {"k":"star","x0":0.406,"y0":19.96,"s":"*"},
        {"k":"star","x0":1.453,"y0":32.7,"s":"*"},
        {"k":"letter","x0":-0.870,"y0":36.6,"s":"h"}
      ]},
      "encoding": {
        "x": {"field":"x0","type":"quantitative","scale":{"domain":[0,2],"nice":false,"zero":false},"axis":{"orient":"bottom","values":[0,1,2],"labels":false,"title":null,"domain":true,"ticks":true}},
        "y": {"field":"y0","type":"quantitative","scale":{"domain":[0,30.32],"nice":false}}
      },
      "layer": [
        {"transform":[{"filter":"datum.k == 'seg'"}],"mark":{"type":"rule","color":"#000","strokeWidth":1},"encoding":{"x2":{"field":"x1"},"y2":{"field":"y1"}}},
        {"transform":[{"filter":"datum.k == 'star'"}],"mark":{"type":"text","fontSize":26,"fontWeight":"bold","baseline":"alphabetic","dy":14},"encoding":{"text":{"field":"s"}}},
        {"transform":[{"filter":"datum.k == 'letter'"}],"mark":{"type":"text","fontSize":24,"fontWeight":"bold","align":"left","baseline":"alphabetic"},"encoding":{"text":{"field":"s"}}}
      ]
    }
  ]
},
{
  "width": 162, "height": 159,
  "resolve": {"scale": {"x": "independent"}, "axis": {"x": "independent"}},
  "layer": [
    {
      "data": {"values": [
        {"g":"Ctrl","t":"Ctrl","v":1.0,"hi":1.005},
        {"g":"Ctrl","t":"2-DG","v":0.89,"hi":0.97},
        {"g":"Ctrl","t":"3BrPA","v":0.96,"hi":1.01},
        {"g":"LKB1","t":"Ctrl","v":1.0,"hi":1.005},
        {"g":"LKB1","t":"2-DG","v":0.81,"hi":0.87},
        {"g":"LKB1","t":"3BrPA","v":0.99,"hi":1.1}
      ]},
      "encoding": {
        "x": {"field":"g","type":"nominal","sort":["Ctrl","LKB1"],"scale":{"paddingInner":0.35,"paddingOuter":0.175},"axis":{"orient":"bottom","title":"shRNA","titlePadding":10,"ticks":false,"domain":false,"labelAngle":0,"labelFontSize":18,"labelPadding":10}},
        "xOffset": {"field":"t","type":"nominal","sort":["Ctrl","2-DG","3BrPA"],"scale":{"paddingInner":0,"paddingOuter":0}},
        "y": {"field":"v","type":"quantitative","scale":{"domain":[0,1.2],"nice":false},"axis":{"values":[0,0.2,0.4,0.6,0.8,1,1.2],"tickCount":20,"format":".3~g","labelOverlap":false,"domain":false,"title":"Cells (fold to control)","titlePadding":16}}
      },
      "layer": [
        {"mark":{"type":"bar"},"encoding":{"color":{"field":"t","type":"nominal","scale":{"domain":["Ctrl","2-DG","3BrPA"],"range":["#4F81BD","#A33B3B","#9BBB59"]},"legend":{"orient":"none","direction":"horizontal","legendX":1,"legendY":-16,"columnPadding":3,"labelOffset":3,"labelFontSize":15,"title":null}}}},
        {"mark":{"type":"rule","color":"#000","strokeWidth":1},"encoding":{"y2":{"field":"hi"}}},
        {"mark":{"type":"tick","color":"#000","thickness":1,"size":9},"encoding":{"y":{"field":"hi","type":"quantitative"}}}
      ]
    },
    {
      "data": {"values": [
        {"k":"seg","x0":0,"x1":0,"y0":0,"y1":1.2},
        {"k":"seg","x0":0.222,"x1":1.971,"y0":-0.247,"y1":-0.247},
        {"k":"letter","x0":-1.049,"y0":1.449,"s":"i"}
      ]},
      "encoding": {
        "x": {"field":"x0","type":"quantitative","scale":{"domain":[0,2],"nice":false,"zero":false},"axis":{"orient":"bottom","values":[0,1,2],"labels":false,"title":null,"domain":true,"ticks":true}},
        "y": {"field":"y0","type":"quantitative","scale":{"domain":[0,1.2],"nice":false}}
      },
      "layer": [
        {"transform":[{"filter":"datum.k == 'seg'"}],"mark":{"type":"rule","color":"#000","strokeWidth":1},"encoding":{"x2":{"field":"x1"},"y2":{"field":"y1"}}},
        {"transform":[{"filter":"datum.k == 'letter'"}],"mark":{"type":"text","fontSize":24,"fontWeight":"bold","align":"left","baseline":"alphabetic"},"encoding":{"text":{"field":"s"}}}
      ]
    }
  ]
}
]
}
